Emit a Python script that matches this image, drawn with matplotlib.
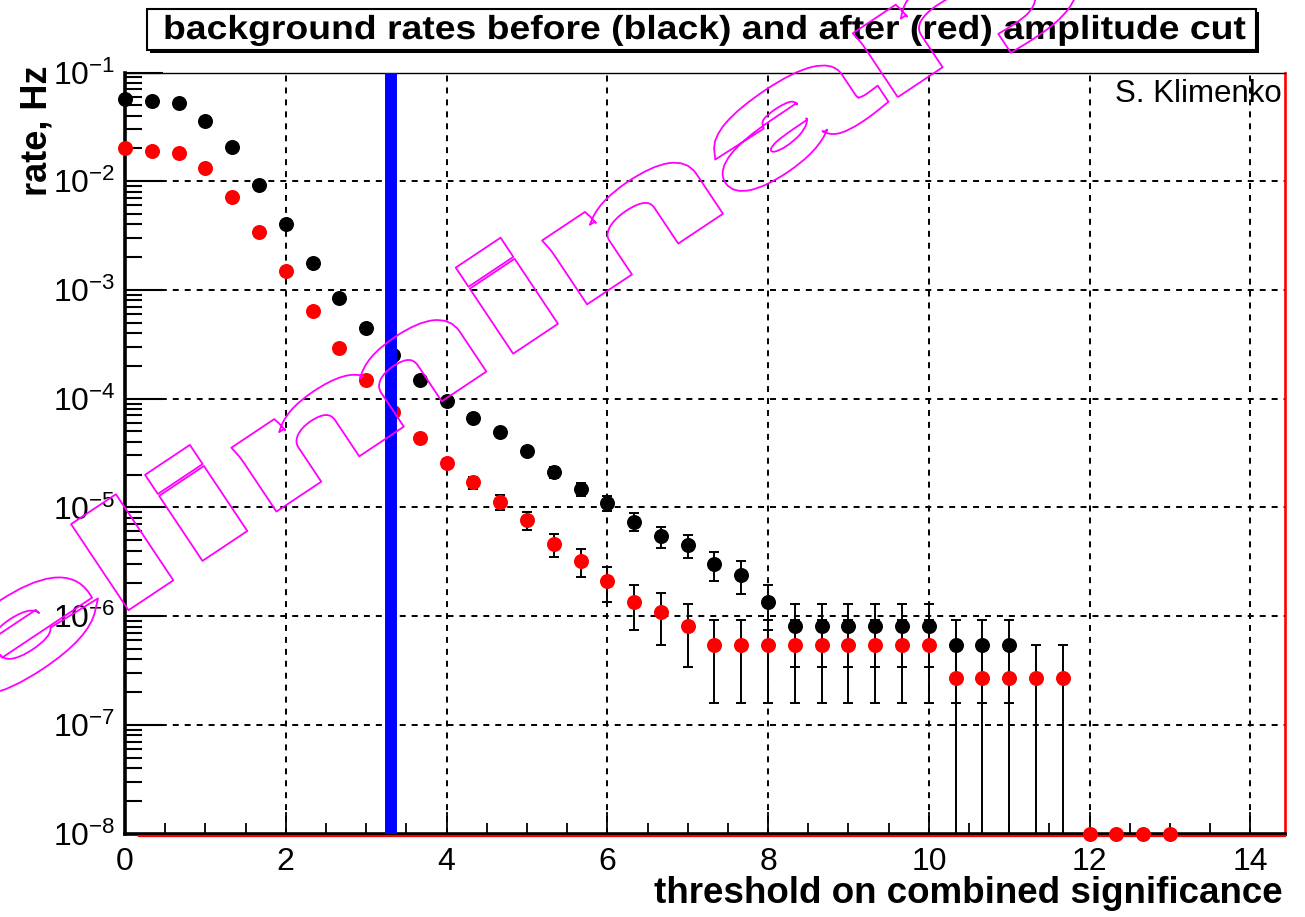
import numpy as np
import matplotlib
matplotlib.use('Agg')
import matplotlib.pyplot as plt
from matplotlib.ticker import LogLocator, MultipleLocator, NullFormatter, FixedLocator
from matplotlib.patches import Rectangle
from matplotlib.path import Path
from matplotlib.patheffects import AbstractPathEffect
import matplotlib.transforms as mtransforms

plt.rcParams['font.family'] = ['Liberation Sans', 'DejaVu Sans']
plt.rcParams['mathtext.fontset'] = 'custom'
plt.rcParams['mathtext.rm'] = 'Liberation Sans'
plt.rcParams['mathtext.it'] = 'Liberation Sans:italic'
plt.rcParams['mathtext.bf'] = 'Liberation Sans:bold'
plt.rcParams['lines.scale_dashes'] = False

# ---------------- data ----------------
title_text = "background rates before (black) and after (red) amplitude cut"
xlabel_text = "threshold on combined significance"
ylabel_text = "rate, Hz"
author_text = "S. Klimenko"
watermark_text = "preliminary"

thr_black = [0.0, 0.333, 0.667, 1.0, 1.333, 1.667, 2.0, 2.333, 2.667, 3.0,
             3.333, 3.667, 4.0, 4.333, 4.667, 5.0, 5.333, 5.667, 6.0, 6.333,
             6.667, 7.0, 7.333, 7.667, 8.0, 8.333, 8.667, 9.0, 9.333, 9.667,
             10.0, 10.333, 10.667, 11.0]
rate_black = [0.0565, 0.055, 0.052, 0.036, 0.0205, 0.0093, 0.0040, 0.00178, 0.00085, 0.00045,
              2.5e-4, 1.49e-4, 9.5e-5, 6.7e-5, 4.9e-5, 3.3e-5, 2.1e-5, 1.47e-5, 1.09e-5, 7.4e-6,
              5.4e-6, 4.5e-6, 3.0e-6, 2.4e-6, 1.35e-6, 8.1e-7, 8.1e-7, 8.1e-7, 8.1e-7, 8.1e-7,
              8.1e-7, 5.4e-7, 5.4e-7, 5.4e-7]
err_black = [1.2e-4, 1.2e-4, 1.2e-4, 1.0e-4, 7.4e-5, 5.0e-5, 3.3e-5, 2.2e-5, 1.5e-5, 1.1e-5,
             8.2e-6, 6.3e-6, 5.1e-6, 4.3e-6, 3.6e-6, 3.0e-6, 2.4e-6, 2.0e-6, 1.7e-6, 1.4e-6,
             1.2e-6, 1.1e-6, 9.0e-7, 8.1e-7, 6.0e-7, 4.7e-7, 4.7e-7, 4.7e-7, 4.7e-7, 4.7e-7,
             4.7e-7, 3.8e-7, 3.8e-7, 3.8e-7]

thr_red = [0.0, 0.333, 0.667, 1.0, 1.333, 1.667, 2.0, 2.333, 2.667, 3.0,
           3.333, 3.667, 4.0, 4.333, 4.667, 5.0, 5.333, 5.667, 6.0, 6.333,
           6.667, 7.0, 7.333, 7.667, 8.0, 8.333, 8.667, 9.0, 9.333, 9.667,
           10.0, 10.333, 10.667, 11.0, 11.333, 11.667, 12.0, 12.333, 12.667, 13.0]
rate_red = [0.020, 0.019, 0.018, 0.0132, 0.0071, 0.0034, 0.00148, 0.00064, 0.00029, 1.48e-4,
            7.6e-5, 4.3e-5, 2.55e-5, 1.7e-5, 1.12e-5, 7.6e-6, 4.6e-6, 3.2e-6, 2.1e-6, 1.35e-6,
            1.08e-6, 8.1e-7, 5.4e-7, 5.4e-7, 5.4e-7, 5.4e-7, 5.4e-7, 5.4e-7, 5.4e-7, 5.4e-7,
            5.4e-7, 2.7e-7, 2.7e-7, 2.7e-7, 2.7e-7, 2.7e-7, 0.0, 0.0, 0.0, 0.0]
err_red = [7.3e-5, 7.2e-5, 7.0e-5, 6.0e-5, 4.4e-5, 3.0e-5, 2.0e-5, 1.3e-5, 8.8e-6, 6.3e-6,
           4.5e-6, 3.4e-6, 2.6e-6, 2.1e-6, 1.7e-6, 1.4e-6, 1.1e-6, 9.3e-7, 7.5e-7, 6.0e-7,
           5.4e-7, 4.7e-7, 3.8e-7, 3.8e-7, 3.8e-7, 3.8e-7, 3.8e-7, 3.8e-7, 3.8e-7, 3.8e-7,
           3.8e-7, 2.7e-7, 2.7e-7, 2.7e-7, 2.7e-7, 2.7e-7, 0.0, 0.0, 0.0, 0.0]

cut_threshold = 3.31
x_range = (0.0, 14.43)
y_range = (1e-8, 1e-1)
x_major = [0, 2, 4, 6, 8, 10, 12, 14]


# ---------------- helpers ----------------
class StretchFill(AbstractPathEffect):
    """Draw text glyphs stretched along the baseline."""
    def __init__(self, sx=1.0):
        super().__init__()
        self.sx = sx

    def draw_path(self, renderer, gc, tpath, affine, rgbFace=None):
        renderer.draw_path(gc, tpath, mtransforms.Affine2D().scale(self.sx, 1.0) + affine, rgbFace)


class StretchOutline(AbstractPathEffect):
    """Draw hollow, emboldened, stretched glyph outlines."""
    def __init__(self, sx=1.0, delta=4.0, color='#ff00ff', lw=1.3):
        super().__init__()
        self.sx, self.delta, self.color, self.lw = sx, delta, color, lw

    def _grow(self, path):
        polys = path.to_polygons(closed_only=True)
        if not polys:
            return path
        def area(p):
            return 0.5 * np.sum(p[:-1, 0] * p[1:, 1] - p[1:, 0] * p[:-1, 1])
        areas = [area(np.vstack([p, p[:1]])) for p in polys]
        big = int(np.argmax(np.abs(areas)))
        sign = 1.0 if areas[big] > 0 else -1.0
        verts, codes = [], []
        for p in polys:
            q = np.asarray(p, float)
            if len(q) > 1 and np.allclose(q[0], q[-1]):
                q = q[:-1]
            d = np.roll(q, -1, axis=0) - q
            keep = np.hypot(d[:, 0], d[:, 1]) > 1e-6
            q = q[keep]
            if len(q) < 3:
                continue
            e = np.roll(q, -1, axis=0) - q
            L = np.hypot(e[:, 0], e[:, 1])[:, None]
            t = e / L
            n = sign * np.column_stack([t[:, 1], -t[:, 0]])
            n_prev = np.roll(n, 1, axis=0)
            m = n + n_prev
            denom = np.maximum(1.0 + np.sum(n * n_prev, axis=1), 0.3)
            q2 = q + self.delta * m / denom[:, None]
            verts.extend(q2.tolist())
            verts.append(q2[0].tolist())
            codes.extend([Path.MOVETO] + [Path.LINETO] * (len(q2) - 1) + [Path.CLOSEPOLY])
        return Path(np.array(verts), codes)

    def draw_path(self, renderer, gc, tpath, affine, rgbFace=None):
        tr = mtransforms.Affine2D().scale(self.sx, 1.0) + affine
        dpath = self._grow(tr.transform_path(tpath))
        gc0 = renderer.new_gc()
        gc0.copy_properties(gc)
        gc0.set_linewidth(self.lw)
        gc0.set_foreground(self.color)
        gc0.set_alpha(1.0)
        renderer.draw_path(gc0, dpath, mtransforms.IdentityTransform(), None)
        gc0.restore()


# ---------------- figure ----------------
W, H = 1305, 917
fig = plt.figure(figsize=(W / 100, H / 100), dpi=100)
fig.patch.set_facecolor('white')


def fx(px):
    return px / W


def fy(py):
    return 1 - py / H


ax_left, ax_right, ax_top, ax_bot = 125, 1285, 72.5, 833.5
ax = fig.add_axes([fx(ax_left), fy(ax_bot), (ax_right - ax_left) / W, (ax_bot - ax_top) / H])
ax.set_yscale('log')
ax.set_xlim(*x_range)
ax.set_ylim(*y_range)

ax.xaxis.set_major_locator(FixedLocator(x_major))
ax.xaxis.set_minor_locator(MultipleLocator(0.5))
ax.yaxis.set_major_locator(LogLocator(base=10, numticks=20))
ax.yaxis.set_minor_locator(LogLocator(base=10, subs=np.arange(2, 10), numticks=20))
ax.yaxis.set_minor_formatter(NullFormatter())
ax.grid(True, which='major', color='black', lw=1.4, ls=(0, (4.3, 4.3)), zorder=0.5)
ax.set_axisbelow(True)

ax.tick_params(axis='x', which='major', direction='in', length=15.5, width=1.3,
               labelsize=23, pad=10, top=False)
ax.tick_params(axis='x', which='minor', direction='in', length=8, width=1.3, top=False)
ax.tick_params(axis='y', which='major', direction='in', length=27, width=1.5,
               labelsize=23, pad=7, right=False)
ax.tick_params(axis='y', which='minor', direction='in', length=12.5, width=1.5, right=False)

for s in ['left', 'bottom']:
    ax.spines[s].set_linewidth(2.6)
    ax.spines[s].set_color('black')
ax.spines['top'].set_linewidth(1.0)
ax.spines['right'].set_linewidth(1.9)
ax.spines['right'].set_color('red')

# red line along bottom edge
off = mtransforms.ScaledTranslation(0, -2.0 / 100, fig.dpi_scale_trans)
ax.plot([0.17, x_range[1]], [y_range[0], y_range[0]], color='red', lw=1.6,
        clip_on=False, transform=ax.transData + off, zorder=6)

# black series
rb = np.array(rate_black)
eb = np.array(err_black)
ax.errorbar(thr_black, rb, yerr=eb, fmt='none', ecolor='black', elinewidth=1.4,
            capsize=3.6, capthick=1.4, zorder=3)
ax.plot(thr_black, rb, 'o', color='black', ms=10.8, mew=0, clip_on=False, zorder=4)

# red series
rr = np.array(rate_red)
er = np.array(err_red)
nz = rr > 0
ax.errorbar(np.array(thr_red)[nz], rr[nz], yerr=er[nz], fmt='none', ecolor='black',
            elinewidth=1.4, capsize=3.6, capthick=1.4, zorder=4.5)
ax.plot(thr_red, np.maximum(rr, y_range[0]), 'o', color='#ff0000', ms=10.8, mew=0,
        clip_on=False, zorder=5)

# cut line
ax.axvline(cut_threshold, color='#0000ff', lw=8.6, zorder=7)

# author
fig.text(fx(1282), fy(102), author_text, ha='right', va='baseline', fontsize=22.5, color='black')

# axis labels
fig.text(fx(1283), fy(903), xlabel_text, ha='right', va='baseline', fontsize=26.5,
         fontweight='bold')
fig.text(fx(37), fy(66), ylabel_text, ha='center', va='top', rotation=90, fontsize=26,
         fontweight='bold')

# title box with shadow
bx0, by0, bx1, by1 = 147, 9, 1256, 50
fig.add_artist(Rectangle((fx(bx0 + 3), fy(by1 + 3)), (bx1 - bx0) / W, (by1 - by0) / H,
                         transform=fig.transFigure, facecolor='black', edgecolor='none'))
fig.add_artist(Rectangle((fx(bx0), fy(by1)), (bx1 - bx0) / W, (by1 - by0) / H,
                         transform=fig.transFigure, facecolor='white', edgecolor='black',
                         lw=1.5))
fig.text(fx(163), fy(39), title_text, ha='left', va='baseline',
         fontsize=24, fontweight='bold', path_effects=[StretchFill(1.12)])

# watermark: hollow, wide, rotated "preliminary"
wm_em_px = 129.0
wm = fig.text(fx(-303), fy(917 - 25), watermark_text, ha='left', va='baseline',
              rotation=33.7, rotation_mode='anchor', fontsize=wm_em_px * 72 / 100,
              fontweight='bold', color='#ff00ff', zorder=20,
              path_effects=[StretchOutline(sx=320.0 / wm_em_px, delta=5.0,
                                           color='#ff00ff', lw=1.3)])

fig.savefig('out.png', dpi=100)
